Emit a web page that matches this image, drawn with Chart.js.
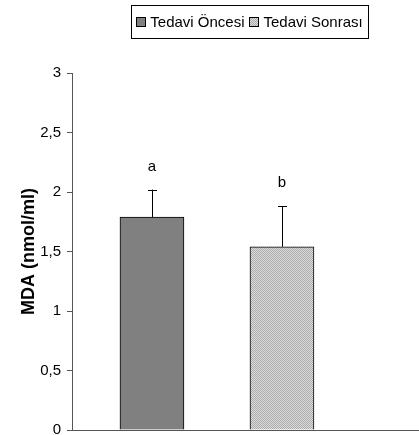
<!DOCTYPE html>
<html>
<head>
<meta charset="utf-8">
<script src="https://cdn.jsdelivr.net/npm/chart.js@4/dist/chart.umd.min.js"></script>
<style>
  body { margin: 0; background: #fff; }
  #wrap { width: 419px; height: 435px; }
</style>
</head>
<body>
<div id="wrap"><canvas id="bar"></canvas></div>
<script>
// values
const categories = ['Tedavi Öncesi', 'Tedavi Sonrası'];
const means = [1.79, 1.54];
const sds = [0.23, 0.34];
const letters = ['a', 'b'];
const yTicks = [0, 0.5, 1, 1.5, 2, 2.5, 3];

const FONT = '"Liberation Sans", Arial, sans-serif';

// checkered light grey fill for the second bar
function makePattern() {
  const c = document.createElement('canvas');
  c.width = 2; c.height = 2;
  const g = c.getContext('2d');
  g.fillStyle = '#dcdcdc'; g.fillRect(0, 0, 2, 2);
  g.fillStyle = '#ababab'; g.fillRect(0, 0, 1, 1); g.fillRect(1, 1, 1, 1);
  return g.createPattern(c, 'repeat');
}
const fills = ['#808080', makePattern()];

// error bars + letters above them
const errorBars = {
  id: 'errorBars',
  afterDatasetsDraw(chart) {
    const ctx = chart.ctx;
    const y = chart.scales.y;
    ctx.save();
    chart.data.datasets.forEach((ds, i) => {
      const el = chart.getDatasetMeta(i).data[0];
      const top = y.getPixelForValue(means[i] + sds[i]);
      const cx = Math.round(el.x);
      ctx.strokeStyle = '#000';
      ctx.lineWidth = 1;
      ctx.beginPath();
      ctx.moveTo(cx + 0.5, el.y);
      ctx.lineTo(cx + 0.5, top);
      ctx.moveTo(cx - 4, Math.round(top) + 0.5);
      ctx.lineTo(cx + 5, Math.round(top) + 0.5);
      ctx.stroke();
      ctx.fillStyle = '#000';
      ctx.font = '15px ' + FONT;
      ctx.textAlign = 'center';
      ctx.textBaseline = 'alphabetic';
      ctx.fillText(letters[i], el.x, top - 19);
    });
    ctx.restore();
  }
};

// boxed legend on top
const boxLegend = {
  id: 'boxLegend',
  afterDraw(chart) {
    const ctx = chart.ctx;
    const area = chart.chartArea;
    ctx.save();
    ctx.font = '15px ' + FONT;
    const box = 10, gap = 4, itemGap = 5, pad = 5;
    const widths = chart.data.datasets.map(ds => box + gap + ctx.measureText(ds.label).width);
    const total = widths.reduce((a, b) => a + b, 0) + itemGap * (widths.length - 1);
    let x = (area.left + area.right) / 2 + 4 - total / 2;
    const cy = 22;
    ctx.strokeStyle = '#000';
    ctx.lineWidth = 1;
    ctx.strokeRect(Math.round(x - pad) + 0.5, 5.5, Math.round(total + 2 * pad + 1), 33);
    chart.data.datasets.forEach((ds, i) => {
      ctx.fillStyle = ds.backgroundColor;
      ctx.fillRect(Math.round(x), cy - 4, box - 1, box - 1);
      ctx.strokeStyle = '#000';
      ctx.strokeRect(Math.round(x) + 0.5, cy - 4.5, box - 1, box - 1);
      ctx.fillStyle = '#000';
      ctx.textAlign = 'left';
      ctx.textBaseline = 'middle';
      ctx.fillText(ds.label, x + box + gap, cy + 1);
      x += widths[i] + itemGap;
    });
    ctx.restore();
  }
};

function noPadding(scale) {
  scale.paddingTop = 0;
  scale.paddingBottom = 0;
  scale.paddingLeft = 0;
  scale.paddingRight = 0;
}

const config = {
  type: 'bar',
  data: {
    datasets: categories.map((name, i) => ({
      label: name,
      data: [{ x: i, y: means[i] }],
      backgroundColor: fills[i],
      borderColor: '#000',
      borderWidth: 1,
      borderSkipped: 'bottom',
      barThickness: 64,
      grouped: false
    }))
  },
  options: {
    responsive: true,
    maintainAspectRatio: false,
    animation: false,
    layout: { padding: { top: 73, right: 0, bottom: 5, left: 0 } },
    plugins: {
      legend: { display: false },
      tooltip: { enabled: false }
    },
    scales: {
      x: {
        type: 'linear',
        offset: false,
        min: -0.615,
        max: 2.054,
        ticks: { display: false },
        grid: { display: true, offset: false, drawOnChartArea: false, drawTicks: false },
        border: { display: true, color: '#555', width: 1 },
        afterFit(scale) { scale.height = 0; noPadding(scale); }
      },
      y: {
        min: 0,
        max: 3,
        afterBuildTicks(scale) { scale.ticks = yTicks.map(v => ({ value: v })); },
        ticks: {
          color: '#000',
          padding: 6,
          font: { family: FONT, size: 15 },
          callback: v => String(v).replace('.', ',')
        },
        grid: { drawOnChartArea: false, drawTicks: true, tickLength: 5, color: '#555' },
        border: { display: true, color: '#555', width: 1 },
        title: {
          display: true,
          text: 'MDA (nmol/ml)',
          color: '#000',
          font: { family: FONT, size: 18, weight: 'bold' },
          padding: { top: 18, bottom: 0 }
        },
        afterFit(scale) { scale.width = 72; noPadding(scale); }
      }
    }
  },
  plugins: [errorBars, boxLegend]
};

new Chart(document.getElementById('bar').getContext('2d'), config);
</script>
</body>
</html>
